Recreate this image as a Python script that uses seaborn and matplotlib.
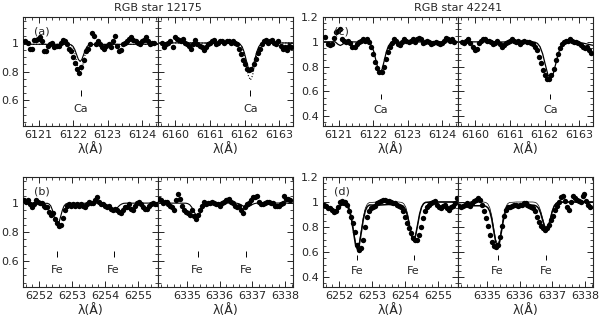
import numpy as np
import pandas as pd
import seaborn as sns
from matplotlib import pyplot as plt
from matplotlib.ticker import MultipleLocator, FuncFormatter

# RGB star 12175, Ca 6122 / Ca 6162 windows
a_ca1_flux = [1.01, 1.00, 0.96, 0.96, 1.02, 1.02, 1.03, 1.04, 1.01, 0.94, 0.94, 0.98, 0.99,
              1.00, 0.97, 0.98, 0.98, 1.00, 1.02, 1.01, 0.99, 0.96, 0.94, 0.90, 0.86, 0.82,
              0.79, 0.83, 0.88, 0.94, 0.96, 0.99, 1.07, 1.05, 0.99, 1.01, 0.99, 0.97, 0.96,
              0.98, 0.99, 0.97, 1.01, 1.05, 0.98, 0.94, 0.95, 0.99, 1.00, 1.01, 1.03, 1.04,
              1.02, 1.01, 1.00, 0.99, 1.01, 1.02, 1.04, 1.01, 0.99, 1.00, 1.00]
a_ca2_flux = [1.00, 0.97, 0.99, 1.00, 1.01, 0.97, 1.04, 1.03, 1.02, 1.01, 1.03, 1.00, 0.99,
              0.98, 0.96, 0.99, 1.02, 0.99, 0.98, 0.97, 0.95, 0.97, 0.99, 1.00, 1.01, 1.02,
              0.99, 1.00, 1.01, 1.01, 1.00, 1.01, 1.01, 1.00, 1.01, 1.00, 0.99, 0.96, 0.92,
              0.88, 0.85, 0.82, 0.81, 0.82, 0.85, 0.89, 0.93, 0.96, 0.99, 1.01, 1.02, 1.00,
              1.01, 1.02, 1.00, 0.99, 1.01, 0.98, 0.96, 0.97, 0.95, 0.98, 0.97]
# RGB star 12175, Fe 6252/6254 and Fe 6335/6337 windows
b_fe1_flux = [1.02, 1.01, 1.02, 0.99, 0.97, 0.99, 1.02, 1.01, 1.00, 1.00, 0.98, 0.97, 0.97,
              0.94, 0.92, 0.93, 0.89, 0.86, 0.84, 0.85, 0.90, 0.95, 0.98, 0.99, 0.98, 0.99,
              0.98, 0.99, 0.98, 0.99, 0.98, 0.97, 0.99, 1.01, 1.00, 1.00, 1.02, 1.04, 1.01,
              0.99, 0.99, 0.98, 0.97, 0.98, 0.96, 0.95, 0.96, 0.95, 0.94, 0.93, 0.95, 0.97,
              0.97, 0.99, 0.96, 0.95, 0.98, 1.00, 1.01, 0.99, 0.97, 0.96, 0.96, 0.98, 0.99,
              1.00, 0.99, 0.99]
b_fe2_flux = [1.03, 1.02, 1.00, 1.01, 1.01, 0.99, 0.98, 0.97, 0.95, 1.02, 1.06, 1.03, 0.98,
              0.95, 0.94, 0.93, 0.92, 0.95, 0.91, 0.89, 0.92, 0.95, 0.98, 1.01, 0.99, 1.00,
              1.00, 1.01, 1.00, 0.99, 0.99, 0.98, 1.00, 1.01, 1.02, 1.02, 1.03, 1.01, 1.00,
              0.98, 0.97, 0.98, 0.95, 0.93, 0.97, 0.99, 1.00, 1.02, 1.04, 1.04, 1.05, 1.01,
              0.99, 0.99, 1.00, 1.01, 1.01, 1.00, 1.00, 0.98, 0.98, 0.98, 0.99, 1.00, 1.05,
              1.03, 1.03, 1.02]
# RGB star 42241
c_ca1_flux = [1.04, 0.98, 0.97, 0.98, 1.03, 1.08, 1.09, 1.10, 1.02, 1.01, 1.00, 1.01, 0.99,
              0.96, 0.96, 0.98, 1.00, 1.01, 1.02, 1.01, 1.02, 1.00, 0.96, 0.90, 0.84, 0.79,
              0.76, 0.76, 0.80, 0.86, 0.92, 0.96, 0.99, 1.02, 1.01, 0.98, 0.97, 1.00, 1.02,
              1.01, 1.00, 1.01, 1.02, 1.00, 1.02, 1.03, 1.02, 0.99, 1.00, 1.01, 1.00, 0.98,
              0.99, 1.00, 0.99, 0.98, 0.99, 1.01, 1.03, 1.02, 1.01, 1.02, 1.00]
c_ca2_flux = [1.00, 0.99, 1.01, 1.02, 0.99, 0.96, 0.93, 0.94, 0.99, 1.01, 1.02, 1.02, 1.01,
              1.01, 1.00, 0.98, 0.99, 1.01, 0.98, 0.96, 0.97, 0.99, 1.00, 1.01, 1.02, 1.01,
              1.00, 1.01, 0.98, 1.00, 1.01, 1.00, 1.00, 0.99, 0.98, 0.96, 0.93, 0.88, 0.83,
              0.77, 0.73, 0.70, 0.70, 0.73, 0.78, 0.85, 0.90, 0.95, 0.98, 1.00, 1.01, 1.01,
              1.02, 1.01, 1.00, 1.00, 0.99, 0.97, 0.96, 0.95, 0.96, 0.93, 0.91]
d_fe1_flux = [0.98, 0.97, 0.95, 0.95, 0.94, 0.92, 0.93, 0.96, 1.00, 1.01, 0.99, 1.00, 0.98,
              0.93, 0.88, 0.83, 0.76, 0.66, 0.62, 0.63, 0.70, 0.80, 0.88, 0.93, 0.95, 0.96,
              0.97, 0.99, 1.00, 1.01, 1.02, 1.02, 1.01, 1.01, 1.00, 0.99, 0.99, 0.98, 0.97,
              0.96, 0.93, 0.88, 0.83, 0.79, 0.75, 0.71, 0.70, 0.70, 0.74, 0.80, 0.87, 0.93,
              0.96, 0.98, 0.99, 1.00, 1.01, 0.98, 0.96, 0.95, 0.97, 0.98, 0.95, 0.94, 0.96,
              0.97, 0.99, 1.03]
d_fe2_flux = [0.97, 0.96, 0.97, 0.98, 0.99, 0.98, 0.97, 0.99, 1.01, 1.02, 1.03, 1.02, 0.98,
              0.93, 0.87, 0.81, 0.74, 0.68, 0.65, 0.64, 0.66, 0.72, 0.81, 0.89, 0.94, 0.96,
              0.96, 0.97, 0.98, 0.98, 0.97, 0.98, 0.98, 0.99, 0.99, 0.98, 0.97, 0.96, 0.95,
              0.93, 0.88, 0.84, 0.81, 0.79, 0.78, 0.79, 0.82, 0.86, 0.89, 0.94, 0.97, 1.00,
              1.04, 1.05, 1.01, 0.96, 0.94, 1.00, 1.05, 1.03, 1.02, 1.01, 1.00, 1.05, 1.06,
              1.01, 0.98, 0.96]

# wavelength sampling of each window (first pixel, last pixel)
a_ca1_range = (6120.62, 6124.34)
a_ca2_range = (6159.62, 6163.34)
b_fe1_range = (6251.54, 6255.56)
b_fe2_range = (6334.14, 6338.16)

# ---- synthetic spectra ----
a_ca1_fit_x = [6120.5, 6121.9, 6121.95, 6122.0, 6122.05, 6122.1, 6122.15, 6122.2, 6122.25,
               6122.3, 6122.35, 6122.4, 6122.45, 6122.5, 6124.5]
a_ca1_fit = [0.99, 0.989, 0.985, 0.974, 0.951, 0.917, 0.884, 0.870, 0.884, 0.917, 0.951,
             0.974, 0.985, 0.989, 0.99]
a_ca1_fit2 = [0.99, 0.988, 0.981, 0.963, 0.925, 0.869, 0.814, 0.790, 0.814, 0.869, 0.925,
              0.963, 0.981, 0.988, 0.99]
a_ca2_fit_x = [6159.4, 6161.81, 6161.87, 6161.93, 6161.99, 6162.05, 6162.11, 6162.17, 6162.23,
               6162.29, 6162.35, 6162.41, 6162.47, 6162.53, 6163.5]
a_ca2_fit = [1.0, 0.998, 0.991, 0.973, 0.935, 0.879, 0.824, 0.80, 0.824, 0.879, 0.935,
             0.973, 0.991, 0.998, 1.0]
a_ca2_fit2 = [1.0, 0.997, 0.989, 0.965, 0.916, 0.842, 0.771, 0.74, 0.771, 0.842, 0.916,
              0.965, 0.989, 0.997, 1.0]

b_fe1_fit_x = [6251.5, 6252.26, 6252.31, 6252.36, 6252.41, 6252.46, 6252.51, 6252.56, 6252.61,
               6252.66, 6252.71, 6252.76, 6252.81, 6252.86, 6253.9, 6253.96, 6254.02, 6254.08,
               6254.14, 6254.2, 6254.26, 6254.32, 6254.38, 6254.44, 6254.5, 6254.56, 6254.62,
               6255.6]
b_fe1_fit = [1.0, 0.998, 0.993, 0.980, 0.951, 0.909, 0.868, 0.85, 0.868, 0.909, 0.951, 0.980,
             0.993, 0.998, 0.999, 0.998, 0.993, 0.984, 0.970, 0.956, 0.95, 0.956, 0.970, 0.984,
             0.993, 0.998, 0.999, 1.0]
b_fe2_fit_x = [6334.1, 6334.97, 6335.03, 6335.09, 6335.15, 6335.21, 6335.27, 6335.33, 6335.39,
               6335.45, 6335.51, 6335.57, 6335.63, 6335.69, 6336.46, 6336.52, 6336.58, 6336.64,
               6336.7, 6336.76, 6336.82, 6336.88, 6336.94, 6337.0, 6337.06, 6337.12, 6337.18,
               6338.3]
b_fe2_fit = [1.0, 0.999, 0.996, 0.988, 0.971, 0.945, 0.921, 0.91, 0.921, 0.945, 0.971, 0.988,
             0.996, 0.999, 1.0, 0.999, 0.996, 0.990, 0.982, 0.974, 0.97, 0.974, 0.982, 0.990,
             0.996, 0.999, 1.0, 1.0]

c_ca1_fit_x = [6120.5, 6120.9, 6120.98, 6121.05, 6121.12, 6121.2, 6121.84, 6121.9, 6121.96,
               6122.02, 6122.08, 6122.14, 6122.2, 6122.26, 6122.32, 6122.38, 6122.44, 6122.5,
               6122.56, 6124.5]
c_ca1_fit = [1.0, 1.0, 0.98, 0.97, 0.98, 1.0, 0.997, 0.989, 0.966, 0.919, 0.848, 0.780, 0.75,
             0.780, 0.848, 0.919, 0.966, 0.989, 0.997, 1.0]
c_ca2_fit_x = [6159.4, 6161.72, 6161.795, 6161.87, 6161.945, 6162.02, 6162.095, 6162.17,
               6162.245, 6162.32, 6162.395, 6162.47, 6162.545, 6162.62, 6162.9, 6163.1, 6163.5]
c_ca2_fit = [1.0, 0.997, 0.987, 0.960, 0.903, 0.818, 0.735, 0.70, 0.735, 0.818, 0.903, 0.960,
             0.987, 0.997, 1.0, 0.99, 0.965]

d_fe1_fit_x = [6251.5, 6251.65, 6251.75, 6251.85, 6251.95, 6252.05, 6252.15, 6252.2, 6252.26,
               6252.32, 6252.38, 6252.44, 6252.5, 6252.56, 6252.62, 6252.68, 6252.74, 6252.8,
               6252.86, 6252.92, 6253.2, 6253.5, 6253.8, 6253.9, 6253.96, 6254.02, 6254.08,
               6254.14, 6254.2, 6254.26, 6254.32, 6254.38, 6254.44, 6254.5, 6254.56, 6254.62,
               6254.8, 6255.6]
d_fe1_fit = [0.985, 0.965, 0.94, 0.93, 0.945, 0.97, 0.98, 0.976, 0.964, 0.931, 0.863, 0.761,
             0.662, 0.62, 0.662, 0.761, 0.863, 0.931, 0.964, 0.976, 0.975, 0.98, 0.975, 0.972,
             0.962, 0.937, 0.882, 0.802, 0.724, 0.69, 0.735, 0.818, 0.903, 0.960, 0.987, 0.997,
             1.0, 1.0]
d_fe1_fit2 = [0.99, 0.97, 0.945, 0.925, 0.94, 0.975, 0.995, 0.996, 0.984, 0.951, 0.883, 0.781,
              0.682, 0.64, 0.682, 0.781, 0.883, 0.951, 0.984, 0.996, 1.0, 1.0, 1.0, 0.997,
              0.987, 0.960, 0.903, 0.818, 0.735, 0.70, 0.735, 0.818, 0.903, 0.960, 0.987, 0.997,
              1.0, 1.0]
d_fe2_fit_x = [6334.1, 6334.5, 6334.9, 6334.97, 6335.03, 6335.09, 6335.15, 6335.21, 6335.27,
               6335.33, 6335.39, 6335.45, 6335.51, 6335.57, 6335.63, 6335.69, 6335.9, 6336.2,
               6336.4, 6336.46, 6336.52, 6336.58, 6336.64, 6336.7, 6336.76, 6336.82, 6336.88,
               6336.94, 6337.0, 6337.06, 6337.12, 6337.18, 6337.5, 6338.3]
d_fe2_fit = [0.97, 0.97, 0.97, 0.966, 0.955, 0.925, 0.863, 0.770, 0.679, 0.64, 0.679, 0.770,
             0.863, 0.925, 0.955, 0.966, 0.975, 0.975, 0.975, 0.973, 0.966, 0.949, 0.912, 0.857,
             0.803, 0.78, 0.806, 0.866, 0.929, 0.970, 0.990, 0.998, 1.0, 1.0]
d_fe2_fit2 = [0.99, 1.0, 1.0, 0.996, 0.985, 0.954, 0.890, 0.794, 0.700, 0.66, 0.700, 0.794,
              0.890, 0.954, 0.985, 0.996, 1.0, 1.0, 1.0, 0.998, 0.991, 0.972, 0.932, 0.873,
              0.815, 0.79, 0.815, 0.873, 0.932, 0.972, 0.991, 0.998, 1.0, 1.0]

# line identifications
ca_lines_1 = [6122.22]
ca_lines_2 = [6162.17]
fe_lines_1 = [6252.56, 6254.26]
fe_lines_2 = [6335.33, 6336.82]

xlims = {'ca1': (6120.55, 6124.45), 'ca2': (6159.5, 6163.4),
         'fe1': (6251.52, 6255.6), 'fe2': (6334.12, 6338.24)}

#%%
sns.set_style("ticks")
plt.rcParams['font.family'] = ['DejaVu Sans']
plt.rcParams['axes.linewidth'] = 0.8

fig = plt.figure(figsize=(6, 3.18), dpi=100)

W = 135 / 600
rows = {'top': (1 - 126 / 318, 109 / 318), 'bot': (1 - 287 / 318, 110 / 318)}
cols = {'L1': 23 / 600, 'L2': 158 / 600, 'R1': 323 / 600, 'R2': 458 / 600}


def fmt(v, pos):
    return f"{v:g}"


def draw(col, row, wl_range, flux, fits, lines, species, xlim, ylim, mark, tag=None):
    b, h = rows[row]
    ax = fig.add_axes([cols[col], b, W, h])
    wl = np.linspace(wl_range[0], wl_range[1], len(flux))
    df = pd.DataFrame({'wl': wl, 'flux': flux})
    sns.scatterplot(data=df, x='wl', y='flux', ax=ax, color='black', s=15,
                    linewidth=0, legend=False, zorder=3)
    for fx, fy, ls, lw in fits:
        sns.lineplot(x=fx, y=fy, ax=ax, color='black', linestyle=ls, linewidth=lw,
                     estimator=None, sort=False, legend=False)
    ax.vlines(lines, mark[0], mark[1], color='black', lw=0.7)
    for wl_line in lines:
        ax.text(wl_line, mark[2], species, ha='center', va='center', fontsize=8)
    ax.set_xlim(xlim)
    ax.set_ylim(ylim)
    ax.xaxis.set_major_locator(MultipleLocator(1))
    ax.xaxis.set_minor_locator(MultipleLocator(0.2))
    ax.yaxis.set_major_locator(MultipleLocator(0.2))
    ax.yaxis.set_minor_locator(MultipleLocator(0.05))
    ax.yaxis.set_major_formatter(FuncFormatter(fmt))
    ax.xaxis.set_major_formatter(FuncFormatter(lambda v, p: f"{v:.0f}"))
    ax.tick_params(which='both', direction='in', top=True, right=True, labelsize=8, pad=3)
    ax.tick_params(which='major', length=4, width=0.7)
    ax.tick_params(which='minor', length=2, width=0.6)
    if col in ('L2', 'R2'):
        ax.tick_params(labelleft=False)
    ax.set_xlabel('λ(Å)', fontsize=9, labelpad=2)
    ax.set_ylabel('')
    if tag:
        ax.text(0.08, 0.87, tag, transform=ax.transAxes, fontsize=8, va='center')
    return ax


ylim_12175 = (0.42, 1.18)
ylim_42241 = (0.32, 1.2)
mk_12175 = (0.63, 0.67, 0.54)
mk_42241 = (0.535, 0.575, 0.45)

draw('L1', 'top', a_ca1_range, a_ca1_flux,
     [(a_ca1_fit_x, a_ca1_fit, '-', 0.8), (a_ca1_fit_x, a_ca1_fit2, ':', 0.8)],
     ca_lines_1, 'Ca', xlims['ca1'], ylim_12175, mk_12175, '(a)')
draw('L2', 'top', a_ca2_range, a_ca2_flux,
     [(a_ca2_fit_x, a_ca2_fit, '-', 0.8), (a_ca2_fit_x, a_ca2_fit2, ':', 0.8)],
     ca_lines_2, 'Ca', xlims['ca2'], ylim_12175, mk_12175)
draw('L1', 'bot', b_fe1_range, b_fe1_flux,
     [(b_fe1_fit_x, b_fe1_fit, '-', 0.8)],
     fe_lines_1, 'Fe', xlims['fe1'], ylim_12175, mk_12175, '(b)')
draw('L2', 'bot', b_fe2_range, b_fe2_flux,
     [(b_fe2_fit_x, b_fe2_fit, '-', 0.8)],
     fe_lines_2, 'Fe', xlims['fe2'], ylim_12175, mk_12175)

draw('R1', 'top', a_ca1_range, c_ca1_flux,
     [(c_ca1_fit_x, c_ca1_fit, '-', 0.9)],
     ca_lines_1, 'Ca', xlims['ca1'], ylim_42241, mk_42241, '(c)')
draw('R2', 'top', a_ca2_range, c_ca2_flux,
     [(c_ca2_fit_x, c_ca2_fit, '-', 0.9)],
     ca_lines_2, 'Ca', xlims['ca2'], ylim_42241, mk_42241)
draw('R1', 'bot', b_fe1_range, d_fe1_flux,
     [(d_fe1_fit_x, d_fe1_fit, '-', 1.1), (d_fe1_fit_x, d_fe1_fit2, '-', 0.5)],
     fe_lines_1, 'Fe', xlims['fe1'], ylim_42241, mk_42241, '(d)')
draw('R2', 'bot', b_fe2_range, d_fe2_flux,
     [(d_fe2_fit_x, d_fe2_fit, '-', 1.1), (d_fe2_fit_x, d_fe2_fit2, '-', 0.5)],
     fe_lines_2, 'Fe', xlims['fe2'], ylim_42241, mk_42241)

fig.text(158 / 600, 1 - 8 / 318, 'RGB star 12175', ha='center', va='center', fontsize=8)
fig.text(458 / 600, 1 - 8 / 318, 'RGB star 42241', ha='center', va='center', fontsize=8)

plt.savefig('out.png', dpi=100)
